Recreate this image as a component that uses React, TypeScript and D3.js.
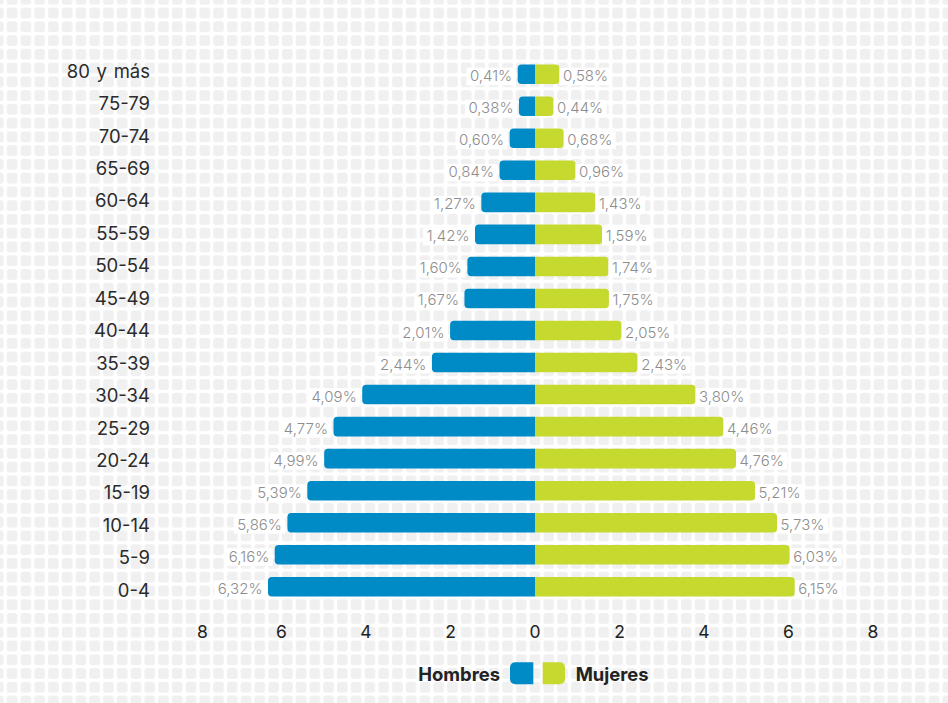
import React, { useEffect, useRef } from "react";
import * as d3 from "d3";

const categories = [
  "80 y más", "75-79", "70-74", "65-69", "60-64", "55-59", "50-54", "45-49",
  "40-44", "35-39", "30-34", "25-29", "20-24", "15-19", "10-14", "5-9", "0-4",
];
const hombres = [0.41, 0.38, 0.6, 0.84, 1.27, 1.42, 1.6, 1.67, 2.01, 2.44, 4.09, 4.77, 4.99, 5.39, 5.86, 6.16, 6.32];
const mujeres = [0.58, 0.44, 0.68, 0.96, 1.43, 1.59, 1.74, 1.75, 2.05, 2.43, 3.8, 4.46, 4.76, 5.21, 5.73, 6.03, 6.15];
const xTicks = [-8, -6, -4, -2, 0, 2, 4, 6, 8];
const seriesNames = ["Hombres", "Mujeres"];

const W = 948;
const H = 703;
const BLUE = "#008bc7";
const GREEN = "#c5d92f";
const FONT = "Inter, 'Open Sans', 'Noto Sans', sans-serif";

function barPath(x0: number, x1: number, y: number, h: number, r: number, roundLeft: boolean) {
  if (roundLeft) {
    return `M${x1},${y}H${x0 + r}A${r},${r} 0 0 0 ${x0},${y + r}V${y + h - r}A${r},${r} 0 0 0 ${x0 + r},${y + h}H${x1}Z`;
  }
  return `M${x0},${y}H${x1 - r}A${r},${r} 0 0 1 ${x1},${y + r}V${y + h - r}A${r},${r} 0 0 1 ${x1 - r},${y + h}H${x0}Z`;
}

export default function App() {
  const ref = useRef<SVGSVGElement | null>(null);

  useEffect(() => {
    const svg = d3.select(ref.current);
    svg.selectAll("*").remove();

    const defs = svg.append("defs");
    const pat = defs
      .append("pattern")
      .attr("id", "tiles")
      .attr("patternUnits", "userSpaceOnUse")
      .attr("x", 6.8)
      .attr("y", 7.6)
      .attr("width", 13.76)
      .attr("height", 13.76);
    pat.append("rect").attr("width", 10.6).attr("height", 10.8).attr("rx", 2.6).attr("fill", "#f0f0f0");
    svg.append("rect").attr("width", W).attr("height", H).attr("fill", "#ffffff");
    svg.append("rect").attr("width", W).attr("height", H).attr("fill", "url(#tiles)");

    const x = d3.scaleLinear().domain([-8, 8]).range([197, 873]);
    const yBar = d3.scaleBand<string>().domain(categories).range([58.2, 602.8]).paddingInner(0.39).paddingOuter(0.195);
    const yLab = d3.scaleBand<string>().domain(categories).range([54.6, 606.2]);
    const bw = yBar.bandwidth();
    const fmt = (v: number) => d3.format(".2f")(v).replace(".", ",") + "%";

    // category labels
    svg
      .append("g")
      .selectAll("text")
      .data(categories)
      .join("text")
      .attr("x", 150)
      .attr("y", (d) => (yLab(d) as number) + yLab.bandwidth() / 2 + 6.8)
      .attr("text-anchor", "end")
      .attr("font-family", FONT)
      .attr("font-size", 18.5)
      .attr("word-spacing", 1.5)
      .attr("fill", "#2b2b2b")
      .text((d) => d);

    // bars
    const gBars = svg.append("g");
    categories.forEach((c, i) => {
      const y0 = yBar(c) as number;
      gBars
        .append("path")
        .attr("d", barPath(x(-hombres[i]), x(0), y0, bw, 4, true))
        .attr("fill", BLUE);
      gBars
        .append("path")
        .attr("d", barPath(x(0), x(mujeres[i]), y0, bw, 4, false))
        .attr("fill", GREEN);
    });

    // value labels with white boxes
    const gLab = svg.append("g");
    const addLabel = (v: number, xEdge: number, yc: number, left: boolean) => {
      const g = gLab.append("g");
      const rect = g.append("rect").attr("fill", "#ffffff");
      const t = g
        .append("text")
        .attr("x", left ? xEdge - 5.5 : xEdge + 3.5)
        .attr("y", yc + 7)
        .attr("text-anchor", left ? "end" : "start")
        .attr("font-family", FONT)
        .attr("font-size", 15)
        .attr("font-weight", 300)
        .attr("fill", "#8e8e8e")
        .text(fmt(v));
      const bb = (t.node() as SVGTextElement).getBBox();
      rect
        .attr("x", bb.x - 3.5)
        .attr("y", yc - 6.5)
        .attr("width", bb.width + 7)
        .attr("height", 17.5);
    };
    categories.forEach((c, i) => {
      const yc = (yBar(c) as number) + bw / 2;
      addLabel(hombres[i], x(-hombres[i]), yc, true);
      addLabel(mujeres[i], x(mujeres[i]), yc, false);
    });

    // x axis tick labels (kept inside the plot range)
    const [rMin, rMax] = x.range();
    const gAx = svg.append("g");
    xTicks.forEach((v) => {
      const t = gAx
        .append("text")
        .attr("x", x(v))
        .attr("y", 637.5)
        .attr("text-anchor", "middle")
        .attr("font-family", FONT)
        .attr("font-size", 17.5)
        .attr("fill", "#222222")
        .text(String(Math.abs(v)));
      const w = (t.node() as SVGTextElement).getComputedTextLength();
      let cx = x(v);
      if (cx - w / 2 < rMin) cx = rMin + w / 2;
      if (cx > rMax) cx = rMax;
      t.attr("x", cx);
    });

    // legend
    const gLeg = svg.append("g");
    gLeg
      .append("text")
      .attr("x", 500)
      .attr("y", 680.9)
      .attr("text-anchor", "end")
      .attr("font-family", FONT)
      .attr("font-weight", 700)
      .attr("font-size", 18.4)
      .attr("fill", "#222222")
      .text(seriesNames[0]);
    gLeg.append("path").attr("d", barPath(510, 533.3, 662.3, 22, 5, true)).attr("fill", BLUE);
    gLeg.append("path").attr("d", barPath(542.7, 565, 662.3, 22, 5, false)).attr("fill", GREEN);
    gLeg
      .append("text")
      .attr("x", 575.7)
      .attr("y", 680.9)
      .attr("text-anchor", "start")
      .attr("font-family", FONT)
      .attr("font-weight", 700)
      .attr("font-size", 18.4)
      .attr("fill", "#222222")
      .text(seriesNames[1]);
  }, []);

  return (
    <svg
      ref={ref}
      width={W}
      height={H}
      viewBox={`0 0 ${W} ${H}`}
      style={{ position: "fixed", left: 0, top: 0, display: "block" }}
    />
  );
}
